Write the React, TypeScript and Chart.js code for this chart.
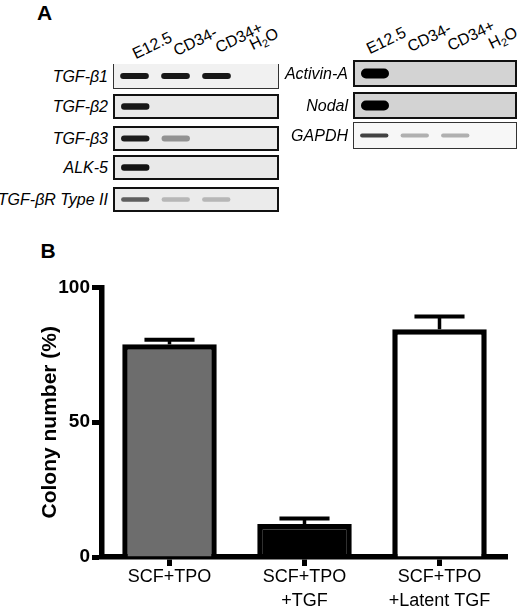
import React, { useEffect, useRef } from 'react';
import { Chart, registerables } from 'chart.js';

Chart.register(...registerables);

const FONT = "'Liberation Sans', Arial, Helvetica, sans-serif";

// ---------------- Panel A data (band intensities per lane, 0 = no band) ----------------
const lanes = ['E12.5', 'CD34-', 'CD34+', 'H2O'];
const leftGenes = ['TGF-β1', 'TGF-β2', 'TGF-β3', 'ALK-5', 'TGF-βR Type II'];
const tgfb1Bands = [0.9, 0.9, 0.9, 0];
const tgfb2Bands = [0.9, 0, 0, 0];
const tgfb3Bands = [0.88, 0.38, 0, 0];
const alk5Bands = [0.92, 0, 0, 0];
const tgfbr2Bands = [0.6, 0.22, 0.22, 0];
const rightGenes = ['Activin-A', 'Nodal', 'GAPDH'];
const activinBands = [1, 0, 0, 0];
const nodalBands = [1, 0, 0, 0];
const gapdhBands = [0.72, 0.25, 0.25, 0];

// ---------------- Panel B data ----------------
const conditions = [['SCF+TPO'], ['SCF+TPO', '+TGF'], ['SCF+TPO', '+Latent TGF']];
const colonyMean = [78.9, 12.2, 84.5];
const colonySem = [1.7, 2.1, 4.7];
const yTicks = [0, 50, 100];
const barFills = ['#6d6d6d', '#000000', '#ffffff'];

// ---------------- layout / styles ----------------
const leftBandSets = [tgfb1Bands, tgfb2Bands, tgfb3Bands, alk5Bands, tgfbr2Bands];
const rightBandSets = [activinBands, nodalBands, gapdhBands];

const leftBox = { x: 113, w: 166, tops: [64, 94, 126, 155, 187], h: 25 };
const rightBox = { x: 353, w: 164, tops: [60, 92, 122], h: 27 };

const leftRowStyle = [
  { bg: '#f1f1f1', bw: 1.5, noTop: true, bc: '#333', band: 6 },
  { bg: '#e9e9e9', bw: 2.5, noTop: false, bc: '#111', band: 6 },
  { bg: '#ebebeb', bw: 2, noTop: false, bc: '#111', band: 6 },
  { bg: '#e9e9e9', bw: 2.5, noTop: false, bc: '#111', band: 6 },
  { bg: '#ebebeb', bw: 2.5, noTop: false, bc: '#111', band: 4.5 },
];
const rightRowStyle = [
  { bg: '#d3d3d3', bw: 2, noTop: false, bc: '#111', band: 10 },
  { bg: '#d3d3d3', bw: 2, noTop: false, bc: '#111', band: 10 },
  { bg: '#f7f7f7', bw: 1.5, noTop: false, bc: '#333', band: 4 },
];

function bandColor(v: number) {
  const g = Math.round(235 * (1 - v));
  return `rgb(${g},${g},${g})`;
}

type RowProps = {
  bands: number[];
  left: number;
  top: number;
  width: number;
  height: number;
  st: { bg: string; bw: number; noTop: boolean; bc: string; band: number };
};

function GelRow({ bands, left, top, width, height, st }: RowProps) {
  const ref = useRef<HTMLCanvasElement>(null);
  const innerH = height - st.bw - (st.noTop ? 0 : st.bw);
  useEffect(() => {
    if (!ref.current) return;
    const f = st.band / innerH / 2;
    const chart = new Chart(ref.current, {
      type: 'bar',
      data: {
        labels: lanes,
        datasets: [
          {
            data: bands.map((v) => (v > 0 ? [0.5 - f, 0.5 + f] : null)) as any,
            backgroundColor: bands.map((v) => bandColor(v)),
            borderRadius: st.band / 2,
            borderSkipped: false,
            borderWidth: 0,
            barPercentage: 0.7,
            categoryPercentage: 1,
          },
        ],
      },
      options: {
        animation: false,
        responsive: true,
        maintainAspectRatio: false,
        events: [],
        layout: { padding: 0 },
        plugins: { legend: { display: false }, tooltip: { enabled: false } },
        scales: {
          x: { display: false },
          y: { display: false, min: 0, max: 1 },
        },
      },
    });
    return () => chart.destroy();
  }, []);
  const border = `${st.bw}px solid ${st.bc}`;
  return (
    <div
      style={{
        position: 'absolute',
        left,
        top,
        width,
        height,
        boxSizing: 'border-box',
        background: st.bg,
        borderLeft: border,
        borderRight: border,
        borderBottom: border,
        borderTop: st.noTop ? 'none' : border,
      }}
    >
      <div style={{ position: 'relative', width: '100%', height: '100%' }}>
        <canvas ref={ref} />
      </div>
    </div>
  );
}

function laneText(t: string) {
  if (t === 'H2O') {
    return (
      <>
        H<sub style={{ fontSize: 11, verticalAlign: '-3px', lineHeight: 0 }}>2</sub>O
      </>
    );
  }
  return t;
}

function LaneLabel({ text, x, y }: { text: string; x: number; y: number }) {
  return (
    <div
      style={{
        position: 'absolute',
        left: x,
        top: y,
        fontSize: 16,
        lineHeight: '16px',
        whiteSpace: 'nowrap',
        transform: 'rotate(-26deg)',
        transformOrigin: '0 100%',
      }}
    >
      {laneText(text)}
    </div>
  );
}

function GeneLabel({ text, right, top, height }: { text: string; right: number; top: number; height: number }) {
  return (
    <div
      style={{
        position: 'absolute',
        left: right - 160,
        width: 160,
        top,
        height,
        display: 'flex',
        alignItems: 'center',
        justifyContent: 'flex-end',
        fontStyle: 'italic',
        fontSize: 16,
        lineHeight: '16px',
        whiteSpace: 'nowrap',
      }}
    >
      {text}
    </div>
  );
}

const errorBarsPlugin = {
  id: 'errorBars',
  afterDatasetsDraw(chart: any) {
    const meta = chart.getDatasetMeta(0);
    const y = chart.scales.y;
    const ctx = chart.ctx;
    ctx.save();
    ctx.strokeStyle = '#000';
    ctx.lineCap = 'butt';
    meta.data.forEach((bar: any, i: number) => {
      const yb = y.getPixelForValue(colonyMean[i]);
      const yt = y.getPixelForValue(colonyMean[i] + colonySem[i]);
      const half = bar.width * 0.265;
      ctx.lineWidth = 3.5;
      ctx.beginPath();
      ctx.moveTo(bar.x, yb);
      ctx.lineTo(bar.x, yt);
      ctx.stroke();
      ctx.lineWidth = 4;
      ctx.beginPath();
      ctx.moveTo(bar.x - half, yt);
      ctx.lineTo(bar.x + half, yt);
      ctx.stroke();
    });
    ctx.restore();
  },
};

function ColonyChart() {
  const ref = useRef<HTMLCanvasElement>(null);
  useEffect(() => {
    if (!ref.current) return;
    const chart = new Chart(ref.current, {
      type: 'bar',
      data: {
        labels: conditions as any,
        datasets: [
          {
            data: colonyMean,
            backgroundColor: barFills,
            borderColor: '#000',
            borderWidth: 5.5,
            borderSkipped: 'start',
            barPercentage: 0.7,
            categoryPercentage: 1,
          },
        ],
      },
      options: {
        animation: false,
        responsive: true,
        maintainAspectRatio: false,
        events: [],
        layout: { padding: { top: 57.5, right: 13, left: 0, bottom: 0 } },
        plugins: { legend: { display: false }, tooltip: { enabled: false } },
        scales: {
          x: {
            z: 1,
            offset: true,
            ticks: {
              font: { family: FONT, size: 18, lineHeight: 1.28 },
              color: '#000',
              padding: 0,
              maxRotation: 0,
              autoSkip: false,
            },
            grid: {
              offset: false,
              drawOnChartArea: false,
              drawTicks: true,
              tickLength: 9,
              tickWidth: 5,
              tickColor: '#000',
              color: '#000',
            },
            border: { display: true, width: 5.5, color: '#000' },
            afterFit: (s: any) => {
              s.height = 49;
            },
          },
          y: {
            z: 1,
            min: 0,
            max: 100,
            afterBuildTicks: (s: any) => {
              s.ticks = yTicks.map((v) => ({ value: v }));
            },
            ticks: {
              font: { family: FONT, size: 19, weight: 'bold' },
              color: '#000',
              padding: 2,
            },
            grid: {
              drawOnChartArea: false,
              drawTicks: true,
              tickLength: 10,
              tickWidth: 5,
              tickColor: '#000',
              color: '#000',
            },
            border: { display: true, width: 5.5, color: '#000' },
            title: {
              display: true,
              text: 'Colony number (%)',
              color: '#000',
              font: { family: FONT, size: 21, weight: 'bold', lineHeight: 1 },
              padding: { top: 40, bottom: 0 },
            },
            afterFit: (s: any) => {
              s.width = 102;
            },
          },
        },
      },
      plugins: [errorBarsPlugin],
    });
    return () => chart.destroy();
  }, []);
  return (
    <div style={{ position: 'absolute', left: 0, top: 230, width: 520, height: 376 }}>
      <canvas ref={ref} />
    </div>
  );
}

const letterStyle = (left: number, top: number): React.CSSProperties => ({
  position: 'absolute',
  left,
  top,
  fontSize: 21,
  lineHeight: '21px',
  fontWeight: 'bold',
});

export default function App() {
  return (
    <div
      style={{
        position: 'absolute',
        left: 0,
        top: 0,
        width: 520,
        height: 606,
        background: '#fff',
        color: '#000',
        fontFamily: FONT,
        overflow: 'hidden',
      }}
    >
      <div style={letterStyle(37, 2)}>A</div>
      {lanes.map((l, i) => (
        <LaneLabel
          key={'ll' + i}
          text={l}
          x={leftBox.x + (leftBox.w / 4) * (i + 0.5) + 3 - (i === 3 ? 7 : 0)}
          y={46 - 3 * i}
        />
      ))}
      {lanes.map((l, i) => (
        <LaneLabel
          key={'rl' + i}
          text={l}
          x={rightBox.x + (rightBox.w / 4) * (i + 0.5) - 3 - (i >= 2 ? 1 : 0)}
          y={41 - 1.7 * i}
        />
      ))}
      {leftGenes.map((g, i) => (
        <React.Fragment key={'lg' + i}>
          <GeneLabel text={g} right={108} top={leftBox.tops[i]} height={leftBox.h} />
          <GelRow
            bands={leftBandSets[i]}
            left={leftBox.x}
            top={leftBox.tops[i]}
            width={leftBox.w}
            height={leftBox.h}
            st={leftRowStyle[i]}
          />
        </React.Fragment>
      ))}
      {rightGenes.map((g, i) => (
        <React.Fragment key={'rg' + i}>
          <GeneLabel text={g} right={348} top={rightBox.tops[i]} height={rightBox.h} />
          <GelRow
            bands={rightBandSets[i]}
            left={rightBox.x}
            top={rightBox.tops[i]}
            width={rightBox.w}
            height={rightBox.h}
            st={rightRowStyle[i]}
          />
        </React.Fragment>
      ))}
      <div style={letterStyle(40.5, 240)}>B</div>
      <ColonyChart />
    </div>
  );
}
